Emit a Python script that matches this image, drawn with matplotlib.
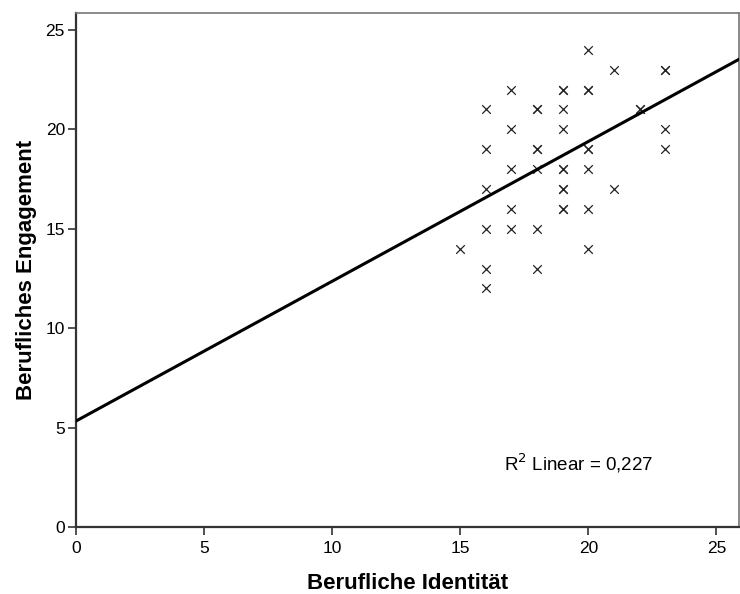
import matplotlib
matplotlib.use("Agg")
import matplotlib.pyplot as plt
import numpy as np

plt.rcParams['font.family'] = ['Liberation Sans', 'DejaVu Sans']

# data (Berufliche Identität, Berufliches Engagement)
identitaet = [20, 21, 23, 23, 17, 19, 19, 20, 20, 16, 18, 18, 19, 22, 22, 17, 19, 23,
              16, 18, 18, 20, 20, 23, 17, 18, 19, 19, 20, 16, 19, 19, 21, 17, 19, 19,
              20, 16, 17, 18, 15, 20, 16, 18, 16]
engagement = [24, 23, 23, 23, 22, 22, 22, 22, 22, 21, 21, 21, 21, 21, 21, 20, 20, 20,
              19, 19, 19, 19, 19, 19, 18, 18, 18, 18, 18, 17, 17, 17, 17, 16, 16, 16,
              16, 15, 15, 15, 14, 14, 13, 13, 12]
intercept = 5.33
slope = 0.703
r2_text = "R$^2$ Linear = 0,227"
xticks = [0, 5, 10, 15, 20, 25]
yticks = [0, 5, 10, 15, 20, 25]

fig = plt.figure(figsize=(7.4, 5.94), dpi=100)
ax = fig.add_axes([0.1027, 0.1128, 0.8959, 0.8652])

ax.scatter(identitaet, engagement, marker='x', s=38, c='#222222', linewidths=0.9, zorder=3)

xlim = (0, 25.88)
xs = np.array(xlim)
ax.plot(xs, intercept + slope * xs, color='black', lw=2.2, zorder=4)

ax.set_xlim(*xlim)
ax.set_ylim(0, 25.85)
ax.set_xticks(xticks)
ax.set_yticks(yticks)
ax.tick_params(axis='both', labelsize=12.5, length=6, width=1.2, color='#333333', pad=2)
ax.tick_params(axis='x', pad=4)

for s in ['left', 'bottom']:
    ax.spines[s].set_linewidth(1.6)
    ax.spines[s].set_color('#333333')
for s in ['top', 'right']:
    ax.spines[s].set_linewidth(1.2)
    ax.spines[s].set_color('#777777')

ax.set_xlabel('Berufliche Identität', fontsize=16, fontweight='bold', labelpad=12)
ax.set_ylabel('Berufliches Engagement', fontsize=16, fontweight='bold', labelpad=6)

ax.text(16.7, 3.2, r2_text, fontsize=13.5, va='center', ha='left')

fig.savefig('out.png', dpi=100)
